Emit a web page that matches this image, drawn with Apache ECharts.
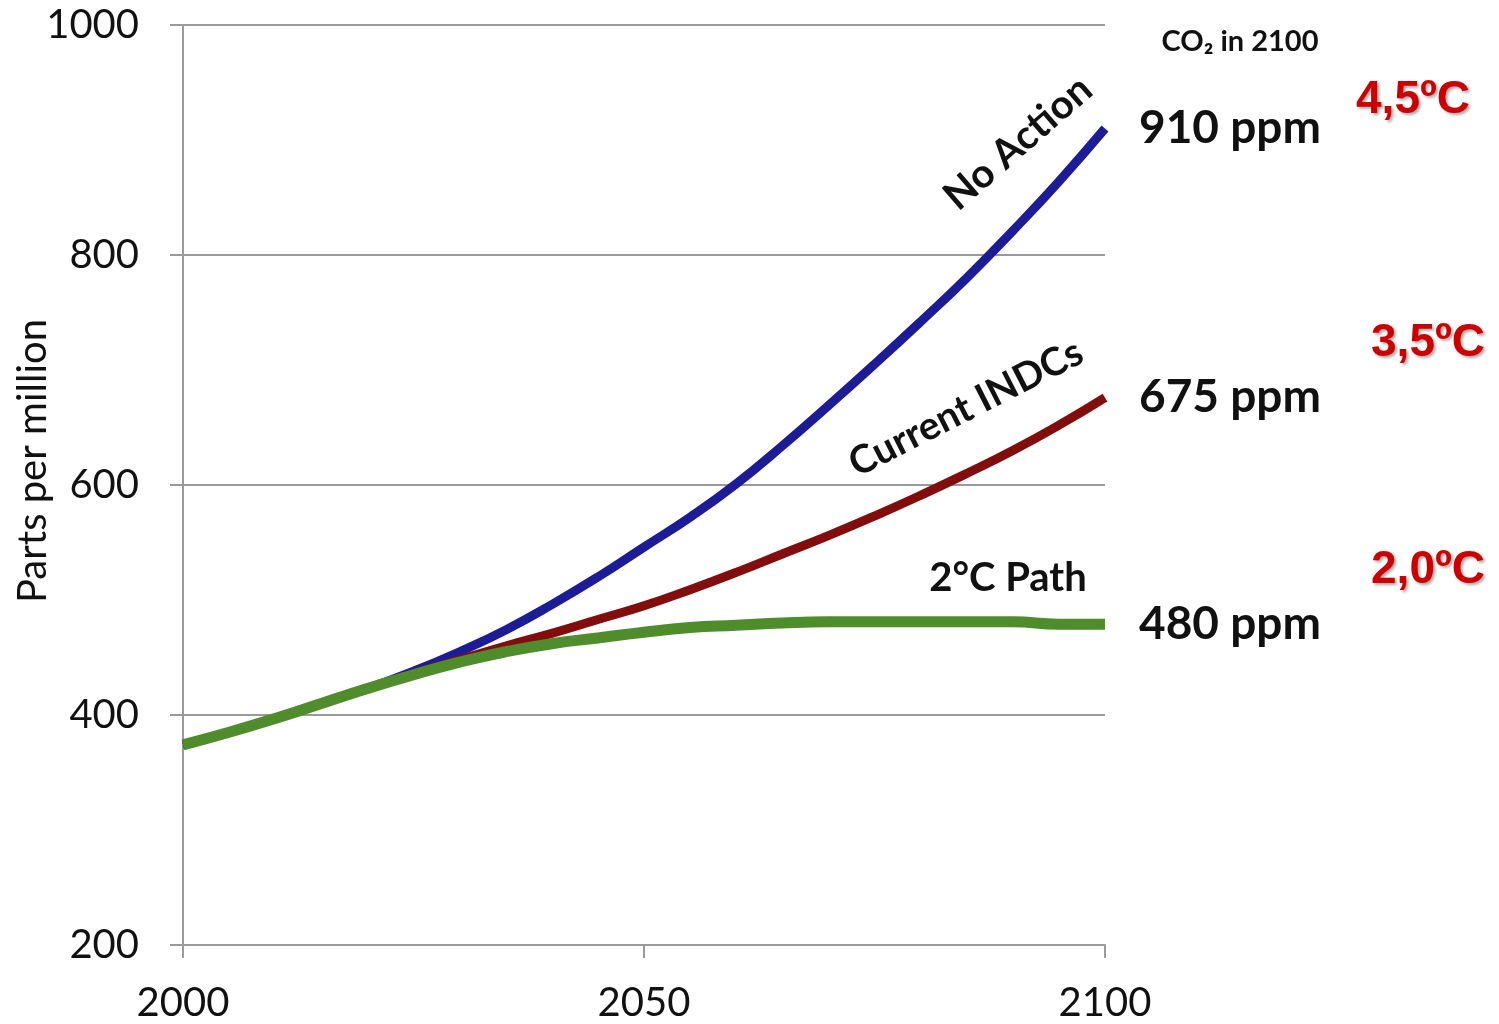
<!DOCTYPE html>
<html>
<head>
<meta charset="utf-8">
<title>CO2 in 2100</title>
<script src="https://cdn.jsdelivr.net/npm/echarts@6/dist/echarts.min.js"></script>
<style>
  html, body { margin: 0; padding: 0; background: #fff; }
  #co2_chart { width: 1499px; height: 1024px; }
</style>
</head>
<body>
<div id="co2_chart"></div>
<script>
/* CO2 concentration paths to 2100 */
var years = [2000, 2005, 2010, 2015, 2020, 2025, 2030, 2035, 2040, 2045, 2050,
             2055, 2060, 2065, 2070, 2075, 2080, 2085, 2090, 2095, 2100];
var noAction = [374, 385, 397, 410, 423, 438, 455, 474, 496, 520, 546,
                572, 601, 634, 669, 705, 742, 780, 821, 864, 910];
var currentINDCs = [374, 385, 397, 410, 423, 436, 448, 460, 471, 483, 495,
                    509, 524, 540, 556, 573, 591, 610, 630, 652, 676];
var path2C = [374, 385, 397, 410, 423, 435, 446, 455, 462, 467, 472,
              476, 478, 480, 481, 481, 481, 481, 481, 479, 479];
var yTicks = [200, 400, 600, 800, 1000];
var xTicks = [2000, 2050, 2100];
var endLabels = ['910 ppm', '675 ppm', '480 ppm'];

function pairs(vals) {
	return years.map(function (y, i) { return [y, vals[i]]; });
}

(function(){
	var myChart = echarts.init(document.getElementById('co2_chart'));
	var font = 'Lato, "Open Sans", sans-serif';
	var grey = '#9a9a9a';

	function endLabel(txt) {
		return {
			show: true,
			formatter: txt,
			distance: 34,
			fontSize: 46,
			fontWeight: 'bold',
			fontFamily: font,
			color: '#111'
		};
	}

	function redText(txt, x, y) {
		return {
			type: 'text', x: x, y: y,
			style: {
				text: txt, fill: '#cc0000', font: 'bold 46px "Liberation Sans", Arial, sans-serif',
				align: 'center', verticalAlign: 'middle',
				textShadowColor: 'rgba(0,0,0,0.35)', textShadowBlur: 3,
				textShadowOffsetX: 2, textShadowOffsetY: 2
			}
		};
	}

	var option = {
		animation: false,
		backgroundColor: '#fff',
		grid: { left: 183, right: 394, top: 25, bottom: 79 },
		xAxis: {
			type: 'value',
			min: xTicks[0], max: xTicks[xTicks.length - 1], interval: 50,
			axisLine: { lineStyle: { color: grey, width: 2 } },
			axisTick: { show: true, length: 13, lineStyle: { color: grey, width: 2 } },
			splitLine: { show: false },
			axisLabel: { fontSize: 40, color: '#111', fontFamily: font, margin: 38,
				formatter: function (v) { return String(v); } }
		},
		yAxis: {
			type: 'value',
			min: yTicks[0], max: yTicks[yTicks.length - 1], interval: 200,
			axisLine: { show: true, lineStyle: { color: grey, width: 2 } },
			axisTick: { show: true, length: 13, lineStyle: { color: grey, width: 2 } },
			splitLine: { show: true, lineStyle: { color: grey, width: 2 } },
			axisLabel: { fontSize: 40, color: '#111', fontFamily: font, margin: 44,
				formatter: function (v) { return String(v); } }
		},
		series: [
			{
				name: 'No Action', type: 'line', smooth: true, symbol: 'none',
				lineStyle: { color: '#1c1c96', width: 9 },
				endLabel: endLabel(endLabels[0]),
				data: pairs(noAction)
			},
			{
				name: 'Current INDCs', type: 'line', smooth: true, symbol: 'none',
				lineStyle: { color: '#820d0d', width: 9 },
				endLabel: endLabel(endLabels[1]),
				data: pairs(currentINDCs)
			},
			{
				name: '2°C Path', type: 'line', smooth: true, symbol: 'none',
				lineStyle: { color: '#4e8c2c', width: 11 },
				endLabel: endLabel(endLabels[2]),
				data: pairs(path2C)
			}
		],
		graphic: [
			{
				type: 'text', x: 33, y: 461, rotation: Math.PI / 2,
				style: { text: 'Parts per million', fill: '#111', font: '40px ' + font,
					align: 'center', verticalAlign: 'middle' }
			},
			{
				type: 'text', x: 1240, y: 42,
				style: { text: 'CO₂ in 2100', fill: '#111', font: 'bold 29px ' + font,
					align: 'center', verticalAlign: 'middle' }
			},
			{
				type: 'text', x: 1018, y: 143, rotation: 41 * Math.PI / 180,
				style: { text: 'No Action', fill: '#111', font: 'bold 40px ' + font,
					align: 'center', verticalAlign: 'middle' }
			},
			{
				type: 'text', x: 966, y: 408, rotation: 27 * Math.PI / 180,
				style: { text: 'Current INDCs', fill: '#111', font: 'bold 39px ' + font,
					align: 'center', verticalAlign: 'middle' }
			},
			{
				type: 'text', x: 1008, y: 578,
				style: { text: '2°C Path', fill: '#111', font: 'bold 40px ' + font,
					align: 'center', verticalAlign: 'middle' }
			},
			redText('4,5ºC', 1413, 100),
			redText('3,5ºC', 1428, 343),
			redText('2,0ºC', 1428, 570)
		]
	};
	myChart.setOption(option);
})();
</script>
</body>
</html>
